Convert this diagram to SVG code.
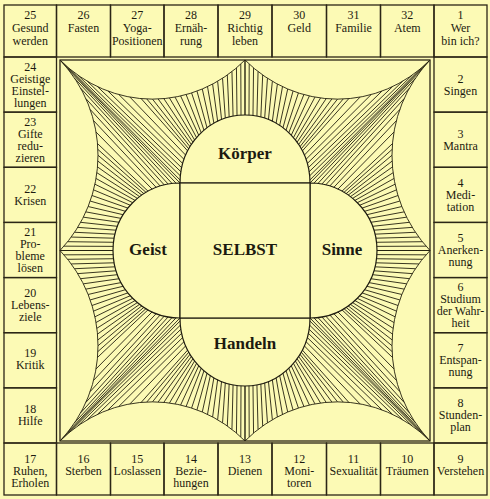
<svg xmlns="http://www.w3.org/2000/svg" width="490" height="499" viewBox="0 0 490 499">
<style>
.c rect{fill:none;stroke:#2b2616;stroke-width:1.3}
.t{font-family:"Liberation Serif","Times New Roman",serif;font-size:12px;fill:#1c1a10;text-anchor:middle}
.lobe{fill:#fcfab5;stroke:#1f1c10;stroke-width:1.2}
.big{font-family:"Liberation Serif","Times New Roman",serif;font-weight:bold;font-size:17px;fill:#1c1a10;text-anchor:middle}
.h{fill:none;stroke:#24200f;stroke-width:0.9}
</style>
<defs>
<path id="half" d="M60,250.5A138.38,138.38 0 0 0 60,60M60,250.5L117.24,250.5M63.94,246.17L117.07,246.4M67.68,241.69L117.17,242.32M71.23,237.06L117.55,238.29M74.58,232.28L118.22,234.32M77.72,227.37L119.17,230.43M80.66,222.32L120.39,226.63M83.38,217.16L121.99,222.7M85.88,211.89L123.87,218.92M88.15,206.52L125.98,215.39M90.2,201.05L128.27,212.12M92.01,195.51L130.73,209.12M93.59,189.89L133.23,206.48M94.94,184.21L135.73,204.17M96.04,178.48L138.2,202.18M96.9,172.71L140.62,200.48M97.51,166.91L142.96,199.04M97.88,161.08L145.27,197.79M98,155.25L147.57,196.71M97.88,149.42L149.84,195.77M97.51,143.59L152.07,194.99M96.04,132.02L156.6,193.7M93.59,120.61L161.22,192.74M90.2,109.45L165.79,192.15M85.88,98.61L170.52,191.79M80.66,88.18L175.14,191.74M74.58,78.22L179.87,191.9M67.68,68.81L184.7,192.26"/>
<g id="quad"><use href="#half"/><use href="#half" transform="matrix(0,1.02973,0.97113,0,1.732,-1.784)"/><path d="M60,60L189.6,192.84"/></g>
</defs>
<rect width="490" height="499" fill="#fcfab5"/>
<g id="hatching" class="h">
<use href="#quad"/>
<use href="#quad" transform="matrix(-1,0,0,1,490,0)"/>
<use href="#quad" transform="matrix(1,0,0,-1,0,501)"/>
<use href="#quad" transform="matrix(-1,0,0,-1,490,501)"/>
</g>
<rect id="board" x="60" y="60" width="370" height="381" fill="none" stroke="#2b2616" stroke-width="1.3"/>
<g id="koerper"><path class="lobe" d="M180,183A65,68 0 0 1 310,183Z"/><text class="big" x="245" y="159">Körper</text></g>
<g id="sinne"><path class="lobe" d="M310,183A67,67.5 0 0 1 310,318Z"/><text class="big" x="342" y="255">Sinne</text></g>
<g id="handeln"><path class="lobe" d="M310,318A65,68 0 0 1 180,318Z"/><text class="big" x="245" y="349">Handeln</text></g>
<g id="geist"><path class="lobe" d="M180,318A67,67.5 0 0 1 180,183Z"/><text class="big" x="148" y="255">Geist</text></g>
<g id="selbst"><rect class="lobe" x="180" y="183" width="130" height="135"/><text class="big" x="245" y="255">SELBST</text></g>
<g id="cells" class="c">
<g id="cell-25"><rect x="4" y="5" width="52.5" height="52"/><text class="t"><tspan x="30.25" y="19">25</tspan><tspan x="30.25" y="32">Gesund</tspan><tspan x="30.25" y="45">werden</tspan></text></g>
<g id="cell-26"><rect x="56.5" y="5" width="54" height="52"/><text class="t"><tspan x="83.5" y="19">26</tspan><tspan x="83.5" y="32">Fasten</tspan></text></g>
<g id="cell-27"><rect x="110.5" y="5" width="53.5" height="52"/><text class="t"><tspan x="137.25" y="19">27</tspan><tspan x="137.25" y="32">Yoga-</tspan><tspan x="137.25" y="45">Positionen</tspan></text></g>
<g id="cell-28"><rect x="164" y="5" width="54" height="52"/><text class="t"><tspan x="191" y="19">28</tspan><tspan x="191" y="32">Ernäh-</tspan><tspan x="191" y="45">rung</tspan></text></g>
<g id="cell-29"><rect x="218" y="5" width="54" height="52"/><text class="t"><tspan x="245" y="19">29</tspan><tspan x="245" y="32">Richtig</tspan><tspan x="245" y="45">leben</tspan></text></g>
<g id="cell-30"><rect x="272" y="5" width="54.5" height="52"/><text class="t"><tspan x="299.25" y="19">30</tspan><tspan x="299.25" y="32">Geld</tspan></text></g>
<g id="cell-31"><rect x="326.5" y="5" width="54" height="52"/><text class="t"><tspan x="353.5" y="19">31</tspan><tspan x="353.5" y="32">Familie</tspan></text></g>
<g id="cell-32"><rect x="380.5" y="5" width="53.5" height="52"/><text class="t"><tspan x="407.25" y="19">32</tspan><tspan x="407.25" y="32">Atem</tspan></text></g>
<g id="cell-1"><rect x="434" y="5" width="53" height="52"/><text class="t"><tspan x="460.5" y="19">1</tspan><tspan x="460.5" y="32">Wer</tspan><tspan x="460.5" y="45">bin ich?</tspan></text></g>
<g id="cell-2"><rect x="434" y="57" width="53" height="55.14"/><text class="t"><tspan x="460.5" y="82.6">2</tspan><tspan x="460.5" y="94.6">Singen</tspan></text></g>
<g id="cell-3"><rect x="434" y="112.14" width="53" height="55.14"/><text class="t"><tspan x="460.5" y="137.7">3</tspan><tspan x="460.5" y="149.7">Mantra</tspan></text></g>
<g id="cell-4"><rect x="434" y="167.29" width="53" height="55.14"/><text class="t"><tspan x="460.5" y="186.9">4</tspan><tspan x="460.5" y="198.9">Medi-</tspan><tspan x="460.5" y="210.9">tation</tspan></text></g>
<g id="cell-5"><rect x="434" y="222.43" width="53" height="55.14"/><text class="t"><tspan x="460.5" y="242">5</tspan><tspan x="460.5" y="254">Anerken-</tspan><tspan x="460.5" y="266">nung</tspan></text></g>
<g id="cell-6"><rect x="434" y="277.57" width="53" height="55.14"/><text class="t"><tspan x="460.5" y="291.1">6</tspan><tspan x="460.5" y="303.1">Studium</tspan><tspan x="460.5" y="315.1">der Wahr-</tspan><tspan x="460.5" y="327.1">heit</tspan></text></g>
<g id="cell-7"><rect x="434" y="332.71" width="53" height="55.14"/><text class="t"><tspan x="460.5" y="352.3">7</tspan><tspan x="460.5" y="364.3">Entspan-</tspan><tspan x="460.5" y="376.3">nung</tspan></text></g>
<g id="cell-8"><rect x="434" y="387.86" width="53" height="55.14"/><text class="t"><tspan x="460.5" y="407.4">8</tspan><tspan x="460.5" y="419.4">Stunden-</tspan><tspan x="460.5" y="431.4">plan</tspan></text></g>
<g id="cell-9"><rect x="434" y="443" width="53" height="52"/><text class="t"><tspan x="460.5" y="462.5">9</tspan><tspan x="460.5" y="474.5">Verstehen</tspan></text></g>
<g id="cell-10"><rect x="380.5" y="443" width="53.5" height="52"/><text class="t"><tspan x="407.25" y="462.5">10</tspan><tspan x="407.25" y="474.5">Träumen</tspan></text></g>
<g id="cell-11"><rect x="326.5" y="443" width="54" height="52"/><text class="t"><tspan x="353.5" y="462.5">11</tspan><tspan x="353.5" y="474.5">Sexualität</tspan></text></g>
<g id="cell-12"><rect x="272" y="443" width="54.5" height="52"/><text class="t"><tspan x="299.25" y="462.5">12</tspan><tspan x="299.25" y="474.5">Moni-</tspan><tspan x="299.25" y="486.5">toren</tspan></text></g>
<g id="cell-13"><rect x="218" y="443" width="54" height="52"/><text class="t"><tspan x="245" y="462.5">13</tspan><tspan x="245" y="474.5">Dienen</tspan></text></g>
<g id="cell-14"><rect x="164" y="443" width="54" height="52"/><text class="t"><tspan x="191" y="462.5">14</tspan><tspan x="191" y="474.5">Bezie-</tspan><tspan x="191" y="486.5">hungen</tspan></text></g>
<g id="cell-15"><rect x="110.5" y="443" width="53.5" height="52"/><text class="t"><tspan x="137.25" y="462.5">15</tspan><tspan x="137.25" y="474.5">Loslassen</tspan></text></g>
<g id="cell-16"><rect x="56.5" y="443" width="54" height="52"/><text class="t"><tspan x="83.5" y="462.5">16</tspan><tspan x="83.5" y="474.5">Sterben</tspan></text></g>
<g id="cell-17"><rect x="4" y="443" width="52.5" height="52"/><text class="t"><tspan x="30.25" y="462.5">17</tspan><tspan x="30.25" y="474.5">Ruhen,</tspan><tspan x="30.25" y="486.5">Erholen</tspan></text></g>
<g id="cell-18"><rect x="4" y="387.86" width="52.5" height="55.14"/><text class="t"><tspan x="30.25" y="413.4">18</tspan><tspan x="30.25" y="425.4">Hilfe</tspan></text></g>
<g id="cell-19"><rect x="4" y="332.71" width="52.5" height="55.14"/><text class="t"><tspan x="30.25" y="357.3">19</tspan><tspan x="30.25" y="369.3">Kritik</tspan></text></g>
<g id="cell-20"><rect x="4" y="277.57" width="52.5" height="55.14"/><text class="t"><tspan x="30.25" y="297.1">20</tspan><tspan x="30.25" y="309.1">Lebens-</tspan><tspan x="30.25" y="321.1">ziele</tspan></text></g>
<g id="cell-21"><rect x="4" y="222.43" width="52.5" height="55.14"/><text class="t"><tspan x="30.25" y="235.5">21</tspan><tspan x="30.25" y="247.5">Pro-</tspan><tspan x="30.25" y="259.5">bleme</tspan><tspan x="30.25" y="271.5">lösen</tspan></text></g>
<g id="cell-22"><rect x="4" y="167.29" width="52.5" height="55.14"/><text class="t"><tspan x="30.25" y="192.9">22</tspan><tspan x="30.25" y="204.9">Krisen</tspan></text></g>
<g id="cell-23"><rect x="4" y="112.14" width="52.5" height="55.14"/><text class="t"><tspan x="30.25" y="125.7">23</tspan><tspan x="30.25" y="137.7">Gifte</tspan><tspan x="30.25" y="149.7">redu-</tspan><tspan x="30.25" y="161.7">zieren</tspan></text></g>
<g id="cell-24"><rect x="4" y="57" width="52.5" height="55.14"/><text class="t"><tspan x="30.25" y="70.6">24</tspan><tspan x="30.25" y="82.6">Geistige</tspan><tspan x="30.25" y="94.6">Einstel-</tspan><tspan x="30.25" y="106.6">lungen</tspan></text></g>
</g>
</svg>
